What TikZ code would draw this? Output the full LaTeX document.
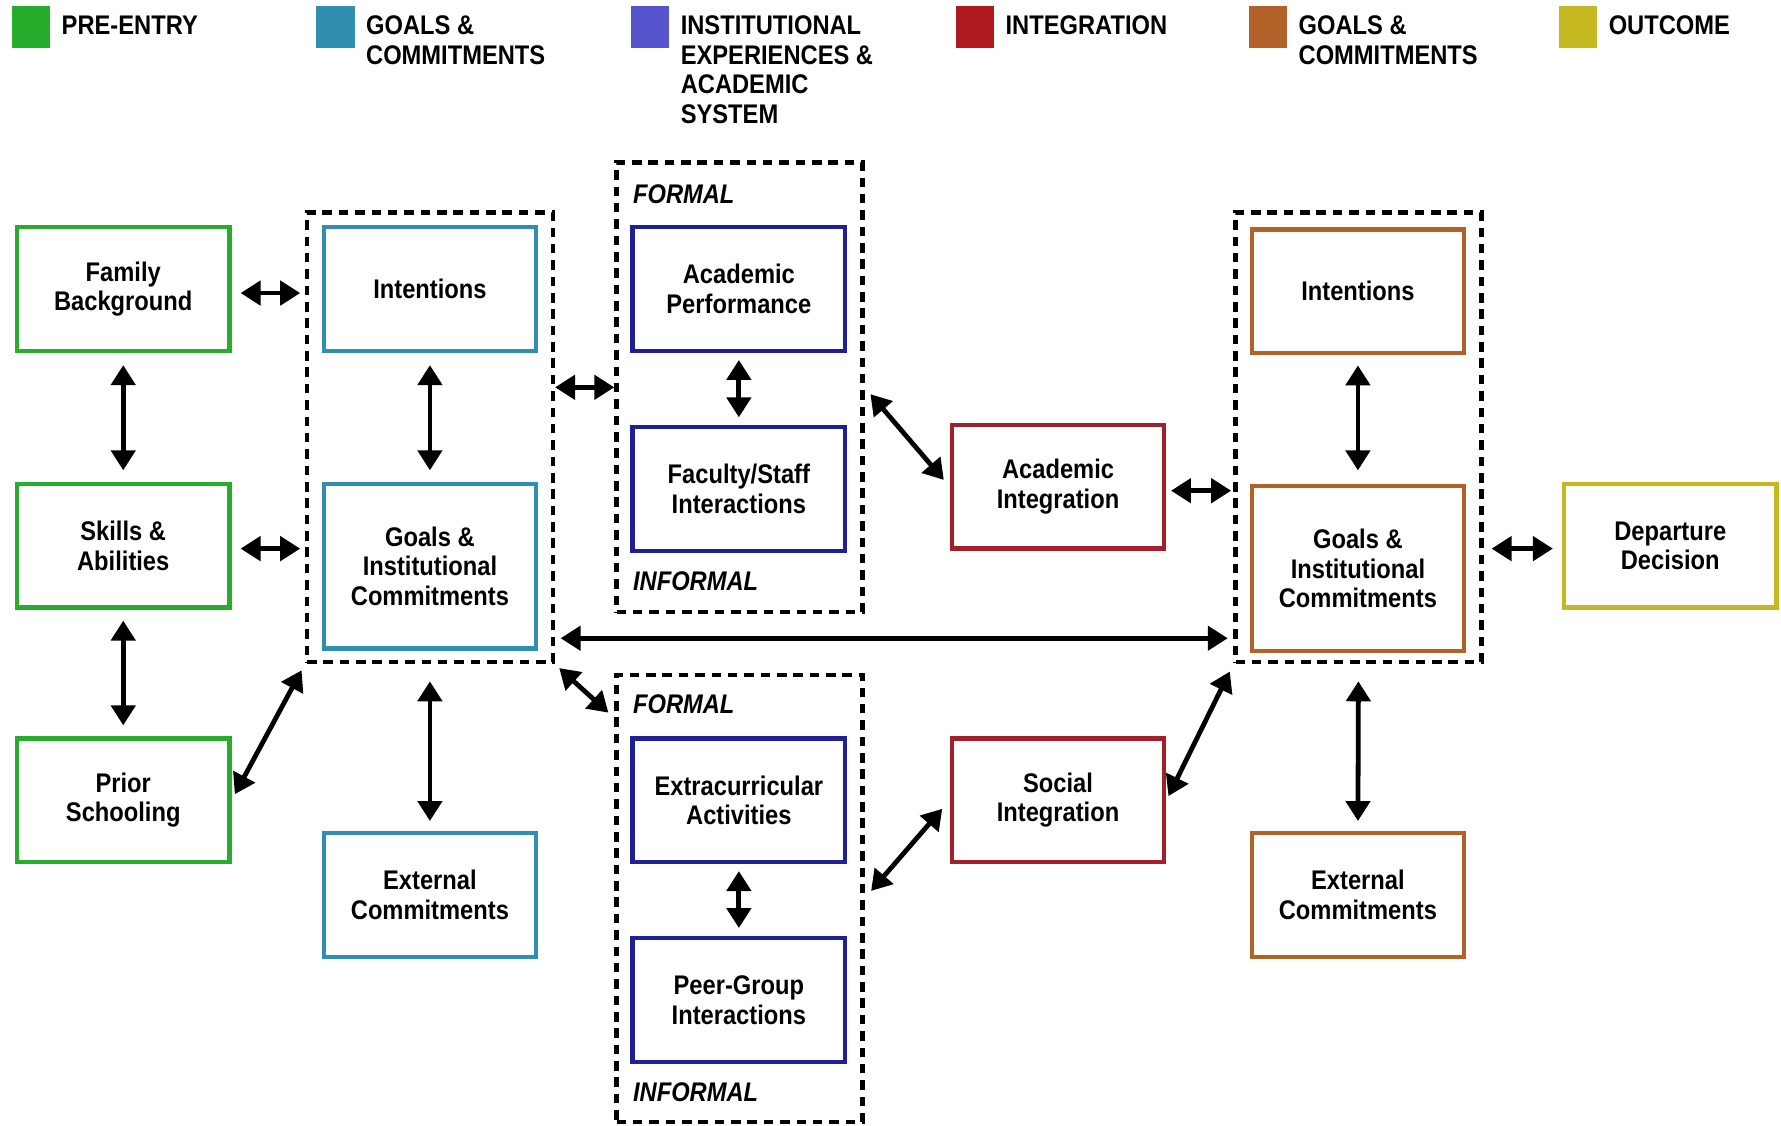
\documentclass[tikz,border=0pt]{standalone}
\usepackage{fontspec}
\setmainfont{Liberation Sans}[FakeStretch=0.88]
\usepackage{tikz}
\usetikzlibrary{arrows.meta,calc,positioning}

\definecolor{preentry}{RGB}{40,172,44}
\definecolor{goalsL}{RGB}{48,142,174}
\definecolor{instkey}{RGB}{86,84,204}
\definecolor{instbox}{RGB}{32,32,150}
\definecolor{integkey}{RGB}{176,24,32}
\definecolor{integbox}{RGB}{162,32,42}
\definecolor{goalsR}{RGB}{178,98,40}
\definecolor{outcome}{RGB}{198,184,32}

\begin{document}
\begin{tikzpicture}[x=0.02cm, y=-0.02cm,
  every node/.style={font=\fontsize{13.5}{14.8}\selectfont\bfseries},
  box/.style={draw, line width=2.2pt, minimum width=3.74cm, minimum height=2.18cm, align=center},
  tallbox/.style={box, minimum height=2.9cm},
  group/.style={draw, line width=2.2pt, dash pattern=on 4.8pt off 3.4pt, inner sep=0pt, minimum width=4.33cm},
  link/.style={{Triangle[length=10pt,width=12pt]}-{Triangle[length=10pt,width=12pt]}, line width=2.4pt},
  swatch/.style={fill=#1, minimum width=0.68cm, minimum height=0.74cm, inner sep=0pt},
  keytext/.style={anchor=north west, align=left, inner sep=0pt},
  tag/.style={anchor=west, inner sep=0pt, font=\fontsize{13.5}{14.8}\selectfont\bfseries\itshape}]
  \useasboundingbox (0,0) rectangle (1568,991);

  % legend
  \foreach \kx/\kc/\kt [count=\i] in {10/preentry/{PRE-ENTRY},
      278/goalsL/{GOALS \&\\COMMITMENTS},
      555/instkey/{INSTITUTIONAL\\EXPERIENCES \&\\ACADEMIC\\SYSTEM},
      841/integkey/{INTEGRATION},
      1099/goalsR/{GOALS \&\\COMMITMENTS},
      1372/outcome/{OUTCOME}} {
    \node[swatch=\kc, anchor=north west] (key\i) at (\kx,5) {};
    \node[keytext] (keytext\i) at (\kx+44,13.5) {\kt};
  }

  % dashed groups
  \node[group, minimum height=7.92cm] (grpL) at (378.5,385) {};
  \node[group, minimum height=7.92cm] (grpM1) at (651,341) {};
  \node[group, minimum height=7.88cm] (grpM2) at (651,791) {};
  \node[group, minimum height=7.92cm] (grpR) at (1196,385) {};
  \node[tag] (formal1) at (557,171) {FORMAL};
  \node[tag] (informal1) at (557,512) {INFORMAL};
  \node[tag] (formal2) at (557,620) {FORMAL};
  \node[tag] (informal2) at (557,962) {INFORMAL};

  % boxes
  \node[box, draw=preentry] (fam) at (108.5,254.5) {Family\\Background};
  \node[box, draw=preentry] (skills) at (108.5,480.5) {Skills \&\\Abilities};
  \node[box, draw=preentry] (prior) at (108.5,704.5) {Prior\\Schooling};
  \node[box, draw=goalsL] (intL) at (378.5,254.5) {Intentions};
  \node[tallbox, draw=goalsL] (goalsL) at (378.5,498.5) {Goals \&\\Institutional\\Commitments};
  \node[box, draw=goalsL] (extL) at (378.5,788) {External\\Commitments};
  \node[box, draw=instbox] (perf) at (650.5,254.5) {Academic\\Performance};
  \node[box, draw=instbox] (staff) at (650.5,430.5) {Faculty/Staff\\Interactions};
  \node[box, draw=instbox] (extra) at (650.5,704.5) {Extracurricular\\Activities};
  \node[box, draw=instbox] (peer) at (650.5,880.5) {Peer-Group\\Interactions};
  \node[box, draw=integbox] (acint) at (931.5,428.5) {Academic\\Integration};
  \node[box, draw=integbox] (soint) at (931.5,704.5) {Social\\Integration};
  \node[box, draw=goalsR] (intR) at (1195.5,256.5) {Intentions};
  \node[tallbox, draw=goalsR] (goalsR) at (1195.5,500.5) {Goals \&\\Institutional\\Commitments};
  \node[box, draw=goalsR] (extR) at (1195.5,788) {External\\Commitments};
  \node[box, draw=outcome] (dep) at (1470.5,480.5) {Departure\\Decision};

  % connectors
  \draw[link, shorten <=4.5pt, shorten >=2.3pt] ([yshift=-0.07cm]fam.east) -- ([yshift=-0.07cm]fam.east -| grpL.west);
  \draw[link, shorten <=4.5pt, shorten >=2.3pt] ([yshift=-0.05cm]skills.east) -- ([yshift=-0.05cm]skills.east -| grpL.west);
  \draw[link, shorten <=6pt, shorten >=5.7pt] (fam.south) -- (skills.north);
  \draw[link, shorten <=5.4pt, shorten >=5.4pt] (skills.south) -- (prior.north);
  \draw[link, shorten <=3.4pt, shorten >=3.4pt] (prior.east) -- (grpL.south west);
  \draw[link, shorten <=6pt, shorten >=5.7pt] (intL.south) -- (goalsL.north);
  \draw[link, shorten <=8.5pt, shorten >=5pt] (grpL.south) -- (extL.north);
  \draw[link] (grpM1.west -| grpL.east) -- (grpM1.west);
  \draw[link, shorten <=3.4pt, shorten >=3.8pt] (perf.south) -- (staff.north);
  \draw[link, shorten <=4.5pt, shorten >=4.5pt] (grpM1.east) -- (acint.west);
  \draw[link, shorten <=2.3pt, shorten >=1.1pt] ([yshift=-0.07cm]acint.east) -- ([yshift=-0.07cm]acint.east -| grpR.west);
  \draw[link, shorten <=2.8pt, shorten >=2.8pt] ([yshift=0.46cm]grpL.south east) -- ([yshift=0.46cm]grpR.south west);
  \draw[link, shorten <=2.8pt, shorten >=4pt] (grpL.south east) -- ([yshift=-0.8cm]grpM2.north west);
  \draw[link, shorten <=3.4pt, shorten >=4pt] (extra.south) -- (peer.north);
  \draw[link, shorten <=5pt, shorten >=5.7pt] (grpM2.east) -- (soint.west);
  \draw[link, shorten <=2.3pt, shorten >=4pt] (soint.east) -- (grpR.south west);
  \draw[link, shorten <=5pt, shorten >=6.8pt] (intR.south) -- (goalsR.north);
  \draw[link, shorten <=8.5pt, shorten >=5pt] (grpR.south) -- (extR.north);
  \draw[link, shorten <=4pt, shorten >=4.5pt] ([yshift=-0.05cm]dep.west -| grpR.east) -- ([yshift=-0.05cm]dep.west);
\end{tikzpicture}
\end{document}
